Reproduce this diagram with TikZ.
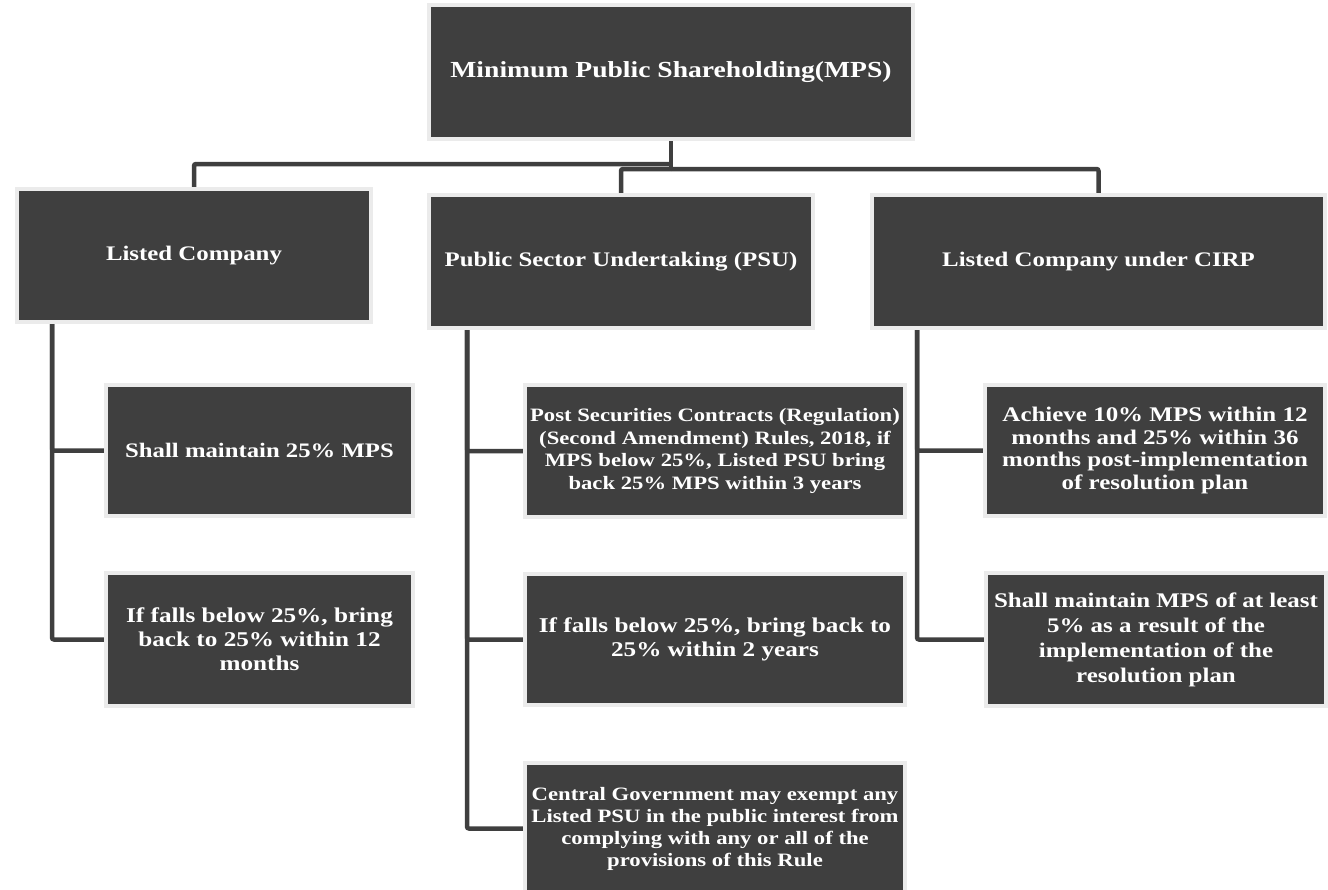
\documentclass[tikz,border=0pt]{standalone}
\usepackage{fontspec}
\setmainfont{Liberation Serif}[FakeStretch=1.2]
\usetikzlibrary{backgrounds}
\definecolor{boxfill}{HTML}{3F3F3F}
\definecolor{boxrim}{HTML}{EBEBEB}
\definecolor{wire}{HTML}{3F3F3F}
\tikzset{
  card/.style={draw=boxrim, line width=4pt, fill=boxfill, text=white,
    inner sep=0pt, align=center},
  txt/.style 2 args={font=\bfseries\fontsize{#1}{#2}\selectfont},
  wirepath/.style={draw=wire, line width=4.5pt, rounded corners=2pt}
}
\begin{document}
\begin{tikzpicture}[x=1pt,y=-1pt]
\useasboundingbox (0,0) rectangle (1328,889);

% root
\node[card, txt={23}{27}, minimum width=484pt, minimum height=134pt] (top) at (671,72)
  {Minimum Public Shareholding(MPS)};

% second level
\node[card, txt={20.7}{24}, minimum width=354pt, minimum height=133pt] (lc) at (194,255.5)
  {Listed Company};
\node[card, txt={20.7}{24}, minimum width=384pt, minimum height=133pt] (psu) at (621,261.5)
  {Public Sector Undertaking (PSU)};
\node[card, txt={20.7}{24}, minimum width=453pt, minimum height=133pt] (cirp) at (1098.5,261.5)
  {Listed Company under CIRP};

% listed company
\node[card, txt={20.6}{24}, minimum width=307pt, minimum height=131pt] (lc1) at (259.5,450.5)
  {Shall maintain 25\% MPS};
\node[card, txt={21}{24}, minimum width=307pt, minimum height=133pt] (lc2) at (259.5,639.5)
  {If falls below 25\%, bring\\back to 25\% within 12\\months};

% public sector undertaking
\node[card, txt={18.9}{22.4}, minimum width=380pt, minimum height=132pt] (psu1) at (715,451)
  {Post Securities Contracts (Regulation)\\(Second Amendment) Rules, 2018, if\\MPS below 25\%, Listed PSU bring\\back 25\% MPS within 3 years};
\node[card, txt={21}{24}, minimum width=380pt, minimum height=131pt] (psu2) at (715,639.5)
  {If falls below 25\%, bring back to\\25\% within 2 years};
\node[card, txt={18.9}{22}, minimum width=380pt, minimum height=131pt] (psu3) at (715,828.5)
  {Central Government may exempt any\\Listed PSU in the public interest from\\complying with any or all of the\\provisions of this Rule};

% company under CIRP
\node[card, txt={20.8}{22.7}, minimum width=340pt, minimum height=131pt] (cirp1) at (1155,450.5)
  {Achieve 10\% MPS within 12\\months and 25\% within 36\\months post-implementation\\of resolution plan};
\node[card, txt={20.8}{25}, minimum width=340pt, minimum height=133pt] (cirp2) at (1156,639.5)
  {Shall maintain MPS of at least\\5\% as a result of the\\implementation of the\\resolution plan};

% junctions and spines
\coordinate (j1) at (671,164);
\coordinate (j2) at (671,169);
\coordinate (lcs) at (52,322);
\coordinate (psus) at (467,328);
\coordinate (cirps) at (917,328);

\begin{scope}[on background layer]
  \draw[wirepath] (top.south) -- (j2);
  \draw[wirepath] (j1) -| (lc.north);
  \draw[wirepath] (j2) -| (psu.north);
  \draw[wirepath] (j2) -| (cirp.north);
  \draw[wirepath] (lcs) |- (lc1.west);
  \draw[wirepath] (lcs) |- (lc2.west);
  \draw[wirepath] (psus) |- (psu1.west);
  \draw[wirepath] (psus) |- (psu2.west);
  \draw[wirepath] (psus) |- (psu3.west);
  \draw[wirepath] (cirps) |- (cirp1.west);
  \draw[wirepath] (cirps) |- (cirp2.west);
\end{scope}
\end{tikzpicture}
\end{document}
